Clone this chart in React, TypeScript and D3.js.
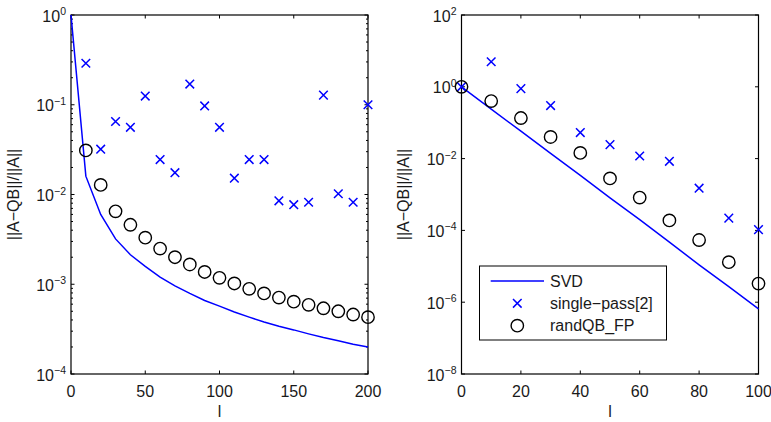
import React from "react";
import * as d3 from "d3";

// ---- Data ----
const leftL = [0, 10, 20, 30, 40, 50, 60, 70, 80, 90, 100, 110, 120, 130, 140, 150, 160, 170, 180, 190, 200];
const leftSVD = [1, 0.016, 0.006, 0.0032, 0.00213, 0.00158, 0.0012, 0.00096, 0.00079, 0.00066, 0.00057, 0.00049, 0.00043, 0.00038, 0.00034, 0.00031, 0.00028, 0.000255, 0.000235, 0.000215, 0.0002];
const leftMarkL = [10, 20, 30, 40, 50, 60, 70, 80, 90, 100, 110, 120, 130, 140, 150, 160, 170, 180, 190, 200];
const leftSingle = [0.29, 0.032, 0.065, 0.056, 0.125, 0.0245, 0.0175, 0.17, 0.097, 0.056, 0.0152, 0.0245, 0.0245, 0.0085, 0.0077, 0.0082, 0.128, 0.0102, 0.0082, 0.1];
const leftRandQB = [0.031, 0.0128, 0.0065, 0.0046, 0.0033, 0.0025, 0.002, 0.00166, 0.00137, 0.00118, 0.00102, 0.00089, 0.00079, 0.00071, 0.00064, 0.00059, 0.00054, 0.0005, 0.00046, 0.00043];

const rightL = [0, 10, 20, 30, 40, 50, 60, 70, 80, 90, 100];
const rightSVD = [1, 0.24, 0.058, 0.014, 0.0034, 0.00081, 0.0002, 0.000047, 0.000011, 0.0000027, 0.00000065];
const rightSingle = [1, 5.0, 0.89, 0.3, 0.053, 0.0245, 0.0118, 0.0084, 0.0015, 0.00022, 0.000105];
const rightRandQB = [1, 0.4, 0.135, 0.04, 0.0144, 0.0028, 0.00082, 0.00019, 0.000054, 0.000013, 0.0000033];

const leftXTicks = [0, 50, 100, 150, 200];
const leftYExps = [0, -1, -2, -3, -4];
const rightXTicks = [0, 20, 40, 60, 80, 100];
const rightYExps = [2, 0, -2, -4, -6, -8];

const legendLabels = ["SVD", "single\u2212pass[2]", "randQB_FP"];
const yLabelText = "||A\u2212QB||/||A||";
const xLabelText = "l";

const FONT = "'Liberation Sans', Arial, Helvetica, sans-serif";
const BLUE = "#0000ff";

type PanelProps = {
  x0: number; x1: number; y0: number; y1: number;
  xDomain: [number, number]; yDomain: [number, number];
  xTicks: number[]; yExps: number[]; minor: boolean;
  lineX: number[]; lineY: number[];
  mx: number[]; single: number[]; rqb: number[];
  yLabelX: number;
};

function fmtExp(e: number) {
  return e < 0 ? "\u2212" + Math.abs(e) : String(e);
}

function Cross({ cx, cy }: { cx: number; cy: number }) {
  const h = 4.3;
  return (
    <path d={`M${cx - h},${cy - h}L${cx + h},${cy + h}M${cx - h},${cy + h}L${cx + h},${cy - h}`} stroke={BLUE} strokeWidth={1.5} fill="none" />
  );
}

function Panel(p: PanelProps) {
  const x = d3.scaleLinear().domain(p.xDomain).range([p.x0, p.x1]);
  const y = d3.scaleLog().domain(p.yDomain).range([p.y1, p.y0]);
  const line = d3.line<number>().x((_, i) => x(p.lineX[i])).y((d) => y(d));
  const tk = 3.5;
  const minorTicks: number[] = [];
  if (p.minor) {
    const lo = Math.min(...p.yExps), hi = Math.max(...p.yExps);
    for (let e = lo; e < hi; e++) {
      for (let m = 2; m <= 9; m++) minorTicks.push(m * Math.pow(10, e));
    }
  }
  return (
    <g>
      {/* ticks */}
      {p.xTicks.map((t) => (
        <g key={"xt" + t}>
          <line x1={x(t)} x2={x(t)} y1={p.y1} y2={p.y1 - tk} stroke="#000" />
          <line x1={x(t)} x2={x(t)} y1={p.y0} y2={p.y0 + tk} stroke="#000" />
          <text x={x(t)} y={p.y1 + 23} textAnchor="middle" fontSize={16} fontFamily={FONT} fill="#1a1a1a">{t}</text>
        </g>
      ))}
      {p.yExps.map((e) => {
        const yy = y(Math.pow(10, e));
        return (
          <g key={"yt" + e}>
            <line x1={p.x0} x2={p.x0 + tk} y1={yy} y2={yy} stroke="#000" />
            <line x1={p.x1} x2={p.x1 - tk} y1={yy} y2={yy} stroke="#000" />
            <text x={p.x0 - 5} y={yy + 6.5} textAnchor="end" fontFamily={FONT} fill="#1a1a1a">
              <tspan fontSize={16}>10</tspan>
              <tspan fontSize={10.5} dy={-6.5}>{fmtExp(e)}</tspan>
            </text>
          </g>
        );
      })}
      {minorTicks.map((v, i) => (
        <g key={"mt" + i}>
          <line x1={p.x0} x2={p.x0 + 2} y1={y(v)} y2={y(v)} stroke="#000" />
          <line x1={p.x1} x2={p.x1 - 2} y1={y(v)} y2={y(v)} stroke="#000" />
        </g>
      ))}
      <rect x={p.x0} y={p.y0} width={p.x1 - p.x0} height={p.y1 - p.y0} fill="none" stroke="#000" strokeWidth={1.2} />
      {/* data */}
      <path d={line(p.lineY) || ""} fill="none" stroke={BLUE} strokeWidth={1.5} />
      {p.single.map((v, i) => (
        <Cross key={"c" + i} cx={x(p.mx[i])} cy={y(v)} />
      ))}
      {p.rqb.map((v, i) => (
        <circle key={"o" + i} cx={x(p.mx[i])} cy={y(v)} r={6.2} fill="none" stroke="#000" strokeWidth={1.4} />
      ))}
      {/* labels */}
      <text x={(p.x0 + p.x1) / 2} y={p.y1 + 43} textAnchor="middle" fontSize={16} fontFamily={FONT} fill="#1a1a1a">{xLabelText}</text>
      <text transform={`translate(${p.yLabelX},${(p.y0 + p.y1) / 2}) rotate(-90)`} textAnchor="middle" fontSize={16} fontFamily={FONT} fill="#1a1a1a">{yLabelText}</text>
    </g>
  );
}

export default function App() {
  const lx0 = 479.5, ly0 = 266, lw = 187, lh = 74;
  const rowY = [281, 303.3, 325.7];
  return (
    <svg width={771} height={422} style={{ position: "absolute", left: 0, top: 0, background: "#fff" }}>
      <rect width={771} height={422} fill="#fff" />
      <Panel x0={71} x1={368} y0={15} y1={374} xDomain={[0, 200]} yDomain={[1e-4, 1]}
        xTicks={leftXTicks} yExps={leftYExps} minor={true}
        lineX={leftL} lineY={leftSVD} mx={leftMarkL} single={leftSingle} rqb={leftRandQB} yLabelX={19} />
      <Panel x0={461.5} x1={758.5} y0={15} y1={374} xDomain={[0, 100]} yDomain={[1e-8, 1e2]}
        xTicks={rightXTicks} yExps={rightYExps} minor={false}
        lineX={rightL} lineY={rightSVD} mx={rightL} single={rightSingle} rqb={rightRandQB} yLabelX={409} />
      {/* legend */}
      <g>
        <rect x={lx0} y={ly0} width={lw} height={lh} fill="#fff" stroke="#000" strokeWidth={1} />
        <line x1={490.7} x2={544} y1={rowY[0]} y2={rowY[0]} stroke={BLUE} strokeWidth={1.5} />
        <Cross cx={517.3} cy={rowY[1]} />
        <circle cx={517.3} cy={rowY[2]} r={6.2} fill="none" stroke="#000" strokeWidth={1.4} />
        {legendLabels.map((t, i) => (
          <text key={t} x={550} y={rowY[i] + 5.5} fontSize={16} fontFamily={FONT} fill="#1a1a1a">{t}</text>
        ))}
      </g>
    </svg>
  );
}
